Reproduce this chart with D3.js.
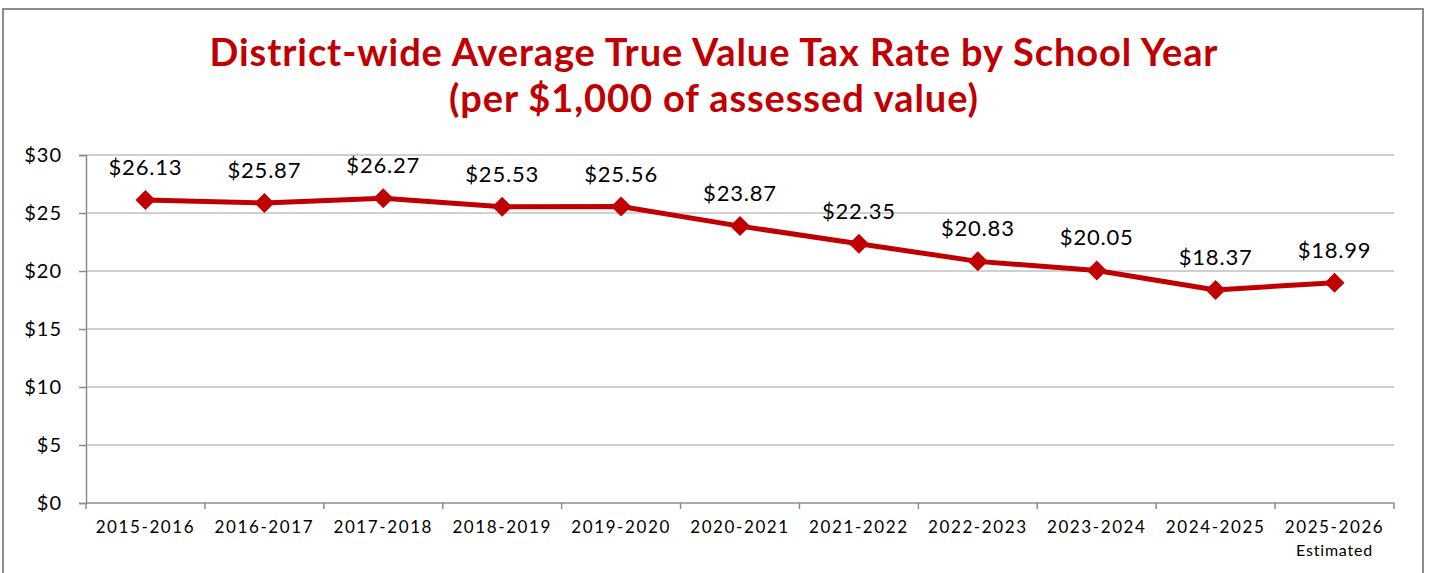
<!DOCTYPE html>
<html>
<head>
<meta charset="utf-8">
<script src="https://cdn.jsdelivr.net/npm/d3@7"></script>
<style>
  body { margin: 0; background: #fff; }
  svg { display: block; font-family: "Lato", "Noto Sans", sans-serif; }
</style>
</head>
<body>
<svg id="chart" width="1430" height="573"></svg>
<script>
// data
var years = ["2015-2016", "2016-2017", "2017-2018", "2018-2019", "2019-2020", "2020-2021",
             "2021-2022", "2022-2023", "2023-2024", "2024-2025", "2025-2026"];
var rates = [26.13, 25.87, 26.27, 25.53, 25.56, 23.87, 22.35, 20.83, 20.05, 18.37, 18.99];
var yTicks = [0, 5, 10, 15, 20, 25, 30];
var titleLines = ["District-wide Average True Value Tax Rate by School Year",
                  "(per $1,000 of assessed value)"];

var red = "#C00000";
var svg = d3.select("#chart");

// outer frame (bottom edge runs past the picture)
svg.append("rect")
    .attr("x", 3).attr("y", 9)
    .attr("width", 1420).attr("height", 600)
    .attr("fill", "none")
    .attr("stroke", "#8c8c8c")
    .attr("stroke-width", 2);

var m = {left: 86, right: 1394, top: 155, bottom: 503};

var x = d3.scaleBand().domain(years).range([m.left, m.right]);
var y = d3.scaleLinear().domain([0, 30]).range([m.bottom, m.top]);

// title
svg.append("g").selectAll("text")
    .data(titleLines)
    .enter()
    .append("text")
    .attr("x", 714)
    .attr("y", function (d, i) { return 66 + i * 46; })
    .attr("text-anchor", "middle")
    .attr("fill", red)
    .attr("font-weight", "bold")
    .attr("font-size", "38px")
    .attr("letter-spacing", "0.9px")
    .text(function (d) { return d; });

// gridlines
svg.append("g").selectAll("line")
    .data(yTicks.filter(function (d) { return d > 0; }))
    .enter()
    .append("line")
    .attr("x1", m.left).attr("x2", m.right)
    .attr("y1", function (d) { return y(d); })
    .attr("y2", function (d) { return y(d); })
    .attr("stroke", "#c0c0c0")
    .attr("stroke-width", 1.5);

// y axis
var yAxis = svg.append("g")
    .attr("transform", "translate(" + m.left + ",0)")
    .call(d3.axisLeft(y).tickValues(yTicks).tickSize(7).tickPadding(17)
        .tickFormat(function (d) { return "$" + d; }));
yAxis.select(".domain").attr("stroke", "#8c8c8c").attr("stroke-width", 1.5);
yAxis.selectAll(".tick line").attr("stroke", "#8c8c8c").attr("stroke-width", 1.5);
yAxis.selectAll(".tick text")
    .attr("font-size", "20px")
    .attr("letter-spacing", "1px")
    .attr("fill", "#000")
    .attr("font-family", "Lato, sans-serif");

// x axis, ticks at category boundaries
var xAxisG = svg.append("g").attr("transform", "translate(0," + m.bottom + ")");
xAxisG.append("line")
    .attr("x1", m.left).attr("x2", m.right)
    .attr("stroke", "#8c8c8c").attr("stroke-width", 1.5);
xAxisG.selectAll("line.tk")
    .data(years.concat(["end"]))
    .enter()
    .append("line")
    .attr("class", "tk")
    .attr("x1", function (d, i) { return m.left + i * x.bandwidth(); })
    .attr("x2", function (d, i) { return m.left + i * x.bandwidth(); })
    .attr("y1", 0).attr("y2", 6)
    .attr("stroke", "#8c8c8c").attr("stroke-width", 1.5);
xAxisG.selectAll("text.lbl")
    .data(years)
    .enter()
    .append("text")
    .attr("class", "lbl")
    .attr("x", function (d) { return x(d) + x.bandwidth() / 2; })
    .attr("y", 30)
    .attr("text-anchor", "middle")
    .attr("font-size", "17px")
    .attr("letter-spacing", "1.6px")
    .attr("fill", "#000")
    .text(function (d) { return d; });
xAxisG.append("text")
    .attr("x", x(years[years.length - 1]) + x.bandwidth() / 2)
    .attr("y", 53)
    .attr("text-anchor", "middle")
    .attr("font-size", "16px")
    .attr("letter-spacing", "0.8px")
    .attr("fill", "#000")
    .text("Estimated");

// line
var cx = function (d, i) { return x(years[i]) + x.bandwidth() / 2; };
var line = d3.line()
    .x(cx)
    .y(function (d) { return y(d); });

svg.append("path")
    .datum(rates)
    .attr("d", line)
    .attr("fill", "none")
    .attr("stroke", red)
    .attr("stroke-width", 5)
    .attr("stroke-linejoin", "round");

// diamond markers
svg.append("g").selectAll("path")
    .data(rates)
    .enter()
    .append("path")
    .attr("transform", function (d, i) { return "translate(" + cx(d, i) + "," + y(d) + ")"; })
    .attr("d", "M0,-10L10,0L0,10L-10,0Z")
    .attr("fill", red);

// data labels
svg.append("g").selectAll("text")
    .data(rates)
    .enter()
    .append("text")
    .attr("x", cx)
    .attr("y", function (d) { return y(d) - 25; })
    .attr("text-anchor", "middle")
    .attr("font-size", "22px")
    .attr("letter-spacing", "0.8px")
    .attr("fill", "#000")
    .text(function (d) { return "$" + d.toFixed(2); });
</script>
</body>
</html>
